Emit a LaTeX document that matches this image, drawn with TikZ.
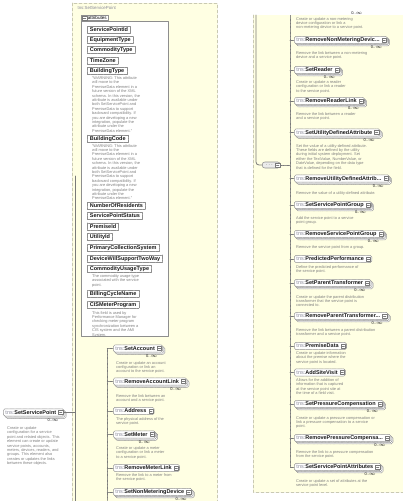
\documentclass[tikz,border=0pt]{standalone}
\usepackage{fontspec}
\setmainfont{Liberation Sans}
\usetikzlibrary{arrows.meta,calc,positioning,shadows}
\definecolor{cPanel}{HTML}{FFFFE3}
\definecolor{cPanelEdge}{HTML}{C9C9B2}
\definecolor{cFrame}{HTML}{8E8E8E}
\definecolor{cInk}{HTML}{1A1A1A}
\definecolor{cMute}{HTML}{8A8A9A}
\definecolor{cNote}{HTML}{808080}
\definecolor{cWire}{HTML}{7A7A7A}

\begin{document}
\begin{tikzpicture}[
  x=1pt, y=-1pt,
  font=\fontsize{5.5}{6}\selectfont,
  line cap=round, line join=round,
  elem/.style={draw=cFrame, line width=0.55pt, dash pattern=on 0.7pt off 0.6pt,
    fill=white, rounded corners=1.6pt, inner xsep=2.2pt, inner ysep=1pt,
    text height=4.1pt, text depth=1.1pt, anchor=west, text=cInk},
  elemMulti/.style={elem, double copy shadow={shadow xshift=1.1pt, shadow yshift=-1.1pt}},
  attrbox/.style={draw=cFrame, line width=0.55pt, dash pattern=on 0.7pt off 0.6pt,
    fill=white, inner xsep=2.6pt, inner ysep=1pt, text height=4.1pt, text depth=1.1pt,
    anchor=west, text=cInk, font=\bfseries\fontsize{5.5}{6}\selectfont},
  attrreq/.style={attrbox, solid},
  expbox/.style={anchor=east, draw=cWire, fill=white, line width=0.4pt,
    minimum width=4.2pt, minimum height=4.2pt, inner sep=0pt,
    path picture={\draw[cWire, line width=0.4pt]
      ([xshift=0.8pt]path picture bounding box.west) --
      ([xshift=-0.8pt]path picture bounding box.east);}},
  descr/.style={anchor=north west, align=left, text=cNote, inner sep=0pt,
    font=\fontsize{3.9}{4.4}\selectfont},
  multlab/.style={anchor=north east, inner sep=0.3pt, text=cInk,
    font=\fontsize{4}{4.5}\selectfont},
  seqbox/.style={draw=cFrame, line width=0.55pt, fill=cFrame!18, rounded corners=2.6pt,
    minimum width=18pt, minimum height=6pt, inner sep=0pt, anchor=west,
    font=\fontsize{4}{4}\selectfont, text=cInk},
  branch/.style={draw=cWire, line width=0.55pt, dash pattern=on 0.6pt off 0.7pt},
  wire/.style={draw=cWire, line width=0.8pt},
  panelEdge/.style={draw=cPanelEdge, line width=0.8pt, dash pattern=on 3pt off 2pt},
]

% ---- Helpers ----
\newcommand{\tnsname}[1]{{\color{cMute}tns:}\textbf{#1}\hspace*{5.6pt}}
\newcommand{\expander}[1]{\node[expbox] at ([xshift=-1.3pt]#1.east) {};}
\newcommand{\multi}[1]{\node[multlab] (#1Mult) at ([xshift=-5pt,yshift=-1.4pt]#1.south east) {0..$\infty$};}

\useasboundingbox (0,0) rectangle (403,501);

% ---- Type panels (the type box, split in two columns) ----
\fill[cPanel] (72,3) rectangle (217,501);
\draw[panelEdge] (72,501) |- (217,3) -- (217,501);
\fill[cPanel] (253,15) rectangle (403,492);
\draw[panelEdge] (253,15) |- (403,492);
\node[anchor=west, text=cMute, font=\fontsize{4.4}{5}\selectfont] (typeTitle) at (74,8) {tns:SetServicePoint};

% ---- Attributes group ----
\draw[draw=cFrame, fill=white, line width=0.55pt] (81,21) rectangle (168,336);
\node[draw=cFrame, fill=white, line width=0.55pt, anchor=south west, inner xsep=1.5pt,
  inner ysep=0.9pt, font=\fontsize{4.6}{5}\selectfont] (attrTab) at (81,21)
  {\hspace*{5pt}attributes};
\node[expbox, anchor=west] at ([xshift=1.3pt]attrTab.west) {};

\node[attrreq] (servicePointId) at (87,29.5) {ServicePointId};
\node[attrbox] (equipmentType) at (87,40) {EquipmentType};
\node[attrbox] (commodityType) at (87,50) {CommodityType};
\node[attrbox] (timeZone) at (87,60.5) {TimeZone};
\node[attrbox] (buildingType) at (87,71) {BuildingType};
\node[descr] (buildingTypeNote) at (92,76.5)
  {"WARNING: This attribute\\will move to the\\PremiseData element in a\\future version of the XML\\schema.  In this version, the\\attribute is available under\\both SetServicePoint and\\PremiseData to support\\backward compatibility.  If\\you are developing a new\\integration, populate the\\attribute under the\\PremiseData element."};
\node[attrbox] (buildingCode) at (87,138.5) {BuildingCode};
\node[descr] (buildingCodeNote) at (92,144)
  {"WARNING: This attribute\\will move to the\\PremiseData element in a\\future version of the XML\\schema.  In this version, the\\attribute is available under\\both SetServicePoint and\\PremiseData to support\\backward compatibility.  If\\you are developing a new\\integration, populate the\\attribute under the\\PremiseData element."};
\node[attrbox] (numberOfResidents) at (87,205.5) {NumberOfResidents};
\node[attrbox] (servicePointStatus) at (87,216) {ServicePointStatus};
\node[attrbox] (premiseId) at (87,226.5) {PremiseId};
\node[attrbox] (utilityId) at (87,237) {UtilityId};
\node[attrbox] (primaryCollectionSystem) at (87,247.5) {PrimaryCollectionSystem};
\node[attrbox] (deviceWillSupportTwoWay) at (87,258.5) {DeviceWillSupportTwoWay};
\node[attrbox] (commodityUsageType) at (87,269) {CommodityUsageType};
\node[descr] (commodityUsageTypeNote) at (92,274.5)
  {The commodity usage type\\associated with the service\\point.};
\node[attrbox] (billingCycleName) at (87,294) {BillingCycleName};
\node[attrbox] (cisMeterProgram) at (87,304.5) {CISMeterProgram};
\node[descr] (cisMeterProgramNote) at (92,311)
  {This field is used by\\Performance Manager for\\checking meter program\\synchronization between a\\CIS system and the AMI\\System.};

% ---- Root element ----
\node[elemMulti] (root) at (3,412.5) {\tnsname{SetServicePoint}};
\expander{root}
\multi{root}
\node[descr] (rootNote) at (7,426.5)
  {Create or update\\configuration for a service\\point and related objects. This\\element can create or update\\service points, accounts,\\meters, devices, readers, and\\groups.  This element also\\creates or updates the links\\between these objects.};

% ---- Sequence, left column ----
\node[elemMulti] (setAccount) at (113,348.5) {\tnsname{SetAccount}};
\expander{setAccount}
\multi{setAccount}
\node[descr] (setAccountNote) at (116,361)
  {Create or update an account\\configuration or link an\\account to the service point.};

\node[elemMulti] (removeAccountLink) at (113,381.5) {\tnsname{RemoveAccountLink}};
\expander{removeAccountLink}
\multi{removeAccountLink}
\node[descr] (removeAccountLinkNote) at (116,394.5)
  {Remove the link between an\\account and a service point.};

\node[elem] (address) at (113,411) {\tnsname{Address}};
\expander{address}
\node[descr] (addressNote) at (116,417)
  {The physical address of the\\service point.};

\node[elemMulti] (setMeter) at (113,434.5) {\tnsname{SetMeter}};
\expander{setMeter}
\multi{setMeter}
\node[descr] (setMeterNote) at (116,446.5)
  {Create or update a meter\\configuration or link a meter\\to a service point.};

\node[elem] (removeMeterLink) at (113,468) {\tnsname{RemoveMeterLink}};
\expander{removeMeterLink}
\node[descr] (removeMeterLinkNote) at (116,473.5)
  {Remove the link to a meter from\\the service point.};

\node[elemMulti] (setNonMeteringDevice) at (113,492) {\tnsname{SetNonMeteringDevice}};
\expander{setNonMeteringDevice}
\multi{setNonMeteringDevice}

% ---- Sequence, right column ----
\node[multlab] (carryMult) at (363,11.5) {0..$\infty$};
\node[descr] (carryNote) at (296,17)
  {Create or update a non-metering\\device configuration or link a\\non-metering device to a service point.};

\node[elemMulti] (removeNonMeteringDevice) at (294,40) {\tnsname{RemoveNonMeteringDevic...}};
\expander{removeNonMeteringDevice}
\multi{removeNonMeteringDevice}
\node[descr] (removeNonMeteringDeviceNote) at (296,51.5)
  {Remove the link between a non-metering\\device and a service point.};

\node[elemMulti] (setReader) at (294,70) {\tnsname{SetReader}};
\expander{setReader}
\multi{setReader}
\node[descr] (setReaderNote) at (296,80.5)
  {Create or update a reader\\configuration or link a reader\\to the service point.};

\node[elemMulti] (removeReaderLink) at (294,101) {\tnsname{RemoveReaderLink}};
\expander{removeReaderLink}
\multi{removeReaderLink}
\node[descr] (removeReaderLinkNote) at (296,112)
  {Remove the link between a reader\\and a service point.};

\node[elemMulti] (setUtilityDefinedAttribute) at (294,132.5) {\tnsname{SetUtilityDefinedAttribute}};
\expander{setUtilityDefinedAttribute}
\multi{setUtilityDefinedAttribute}
\node[descr] (setUtilityDefinedAttributeNote) at (296,144)
  {Set the value of a utility-defined attribute.\\These fields are defined by the utility\\during initial system deployment.  Set\\either the TextValue, NumberValue, or\\DateValue, depending on the data type\\that is defined for the field.};

\node[elemMulti] (removeUtilityDefinedAttribute) at (294,178.5) {\tnsname{RemoveUtilityDefinedAttrib...}};
\expander{removeUtilityDefinedAttribute}
\multi{removeUtilityDefinedAttribute}
\node[descr] (removeUtilityDefinedAttributeNote) at (296,191)
  {Remove the value of a utility-defined attribute.};

\node[elemMulti] (setServicePointGroup) at (294,205) {\tnsname{SetServicePointGroup}};
\expander{setServicePointGroup}
\multi{setServicePointGroup}
\node[descr] (setServicePointGroupNote) at (296,216)
  {Add the service point to a service\\point group.};

\node[elemMulti] (removeServicePointGroup) at (294,234) {\tnsname{RemoveServicePointGroup}};
\expander{removeServicePointGroup}
\multi{removeServicePointGroup}
\node[descr] (removeServicePointGroupNote) at (296,245)
  {Remove the service point from a group.};

\node[elem] (predictedPerformance) at (294,259) {\tnsname{PredictedPerformance}};
\expander{predictedPerformance}
\node[descr] (predictedPerformanceNote) at (296,265)
  {Define the predicted performance of\\the service point.};

\node[elemMulti] (setParentTransformer) at (294,283) {\tnsname{SetParentTransformer}};
\expander{setParentTransformer}
\multi{setParentTransformer}
\node[descr] (setParentTransformerNote) at (296,295)
  {Create or update the parent distribution\\transformer that the service point is\\connected to.};

\node[elemMulti] (removeParentTransformer) at (294,316) {\tnsname{RemoveParentTransformer...}};
\expander{removeParentTransformer}
\multi{removeParentTransformer}
\node[descr] (removeParentTransformerNote) at (296,328)
  {Remove the link between a parent distribution\\transformer and a service point.};

\node[elem] (premiseData) at (294,346) {\tnsname{PremiseData}};
\expander{premiseData}
\node[descr] (premiseDataNote) at (296,351.5)
  {Create or update information\\about the premise where the\\service point is located.};

\node[elem] (addSiteVisit) at (294,372.5) {\tnsname{AddSiteVisit}};
\expander{addSiteVisit}
\node[descr] (addSiteVisitNote) at (296,378.5)
  {Allows for the addition of\\information that is captured\\at the service point site at\\the time of a field visit.};

\node[elemMulti] (setPressureCompensation) at (294,404) {\tnsname{SetPressureCompensation}};
\expander{setPressureCompensation}
\multi{setPressureCompensation}
\node[descr] (setPressureCompensationNote) at (296,416)
  {Create or update a pressure compensation or\\link a pressure compensation to a service\\point.};

\node[elemMulti] (removePressureCompensation) at (294,438) {\tnsname{RemovePressureCompensa...}};
\expander{removePressureCompensation}
\multi{removePressureCompensation}
\node[descr] (removePressureCompensationNote) at (296,450)
  {Remove the link to a pressure compensation\\from the service point.};

\node[elemMulti] (setServicePointAttributes) at (294,467) {\tnsname{SetServicePointAttributes}};
\expander{setServicePointAttributes}
\multi{setServicePointAttributes}
\node[descr] (setServicePointAttributesNote) at (296,479)
  {Create or update a set of attributes at the\\service point level.};

% ---- Sequence compositor ----
\node[seqbox] (seq) at (262,165) {$\cdot\!\cdot\!\cdot$\hspace*{4pt}};
\node[expbox] at ([xshift=-0.6pt]seq.east) {};

% ---- Connectors ----
\coordinate (trunkL) at (75,176);
\coordinate (trunkLEnd) at (75,501);
\coordinate (trunkR) at (256,15);
\coordinate (railL) at (107,501);
\coordinate (railR) at (290,15);

\draw[wire] (trunkL) -- (trunkLEnd);
\draw[wire] (root.east) -- (root.east -| trunkL);
\draw[wire, rounded corners=3pt] (trunkR) |- (seq.west);

\draw[branch] (setAccount.west) -| (railL);
\foreach \n in {removeAccountLink,address,setMeter,removeMeterLink,setNonMeteringDevice}
  {\draw[branch] (\n.west) -- (\n.west -| railL);}

\draw[branch] (setServicePointAttributes.west) -| (railR);
\draw[branch] (seq.east) -- (seq.east -| railR);
\foreach \n in {removeNonMeteringDevice,setReader,removeReaderLink,setUtilityDefinedAttribute,
  removeUtilityDefinedAttribute,setServicePointGroup,removeServicePointGroup,
  predictedPerformance,setParentTransformer,removeParentTransformer,premiseData,
  addSiteVisit,setPressureCompensation,removePressureCompensation}
  {\draw[branch] (\n.west) -- (\n.west -| railR);}

\end{tikzpicture}
\end{document}
